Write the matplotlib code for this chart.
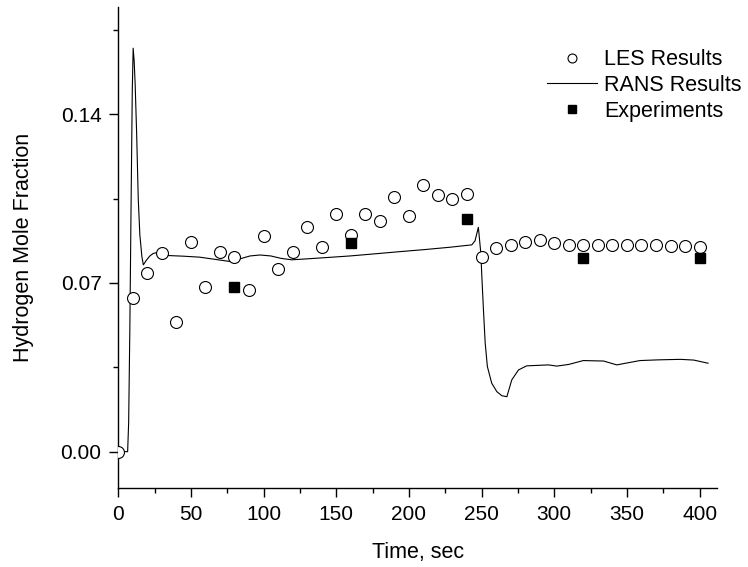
import numpy as np
import matplotlib
matplotlib.use('Agg')
import matplotlib.pyplot as plt
from matplotlib.ticker import MultipleLocator, FormatStrFormatter

plt.rcParams['font.family'] = ['Liberation Sans', 'DejaVu Sans']

# LES results, every 10 s
les_t = list(range(0, 401, 10))
les_y = [0.0, 0.0637, 0.0740, 0.0826, 0.0539, 0.0869, 0.0682, 0.0827, 0.0808, 0.0671,
         0.0895, 0.0759, 0.0830, 0.0934, 0.0849, 0.0986, 0.0900, 0.0985, 0.0959, 0.1058,
         0.0978, 0.1108, 0.1065, 0.1049, 0.1068, 0.0807, 0.0846, 0.0859, 0.0869, 0.0878,
         0.0867, 0.0858, 0.0858, 0.0857, 0.0857, 0.0857, 0.0857, 0.0857, 0.0855, 0.0855,
         0.0851]

rans_t = [0, 3, 6.5, 7.2, 8.0, 9.0, 9.7, 10.3, 11.0, 11.7, 12.7, 13.8, 14.9, 16.3, 17.3,
          19.5, 21.8, 24, 26.4, 29.9, 33.3, 45, 56, 70, 76.9, 83.8, 90.7, 97.6, 105,
          112, 119.4, 130, 145, 159.5, 175, 194, 210, 228, 243.3, 245.5, 247.8,
          249.5, 250.2, 251.3, 252.5, 254, 257, 260.5, 264, 267.4, 270.8, 275.4,
          281, 296, 301.8, 310, 320, 334, 343, 359, 372, 386.9, 396, 405.8]
rans_y = [0.0, 0.0, 0.0, 0.012, 0.05, 0.11, 0.15, 0.1674, 0.162, 0.152, 0.132, 0.105,
          0.090, 0.081, 0.0775, 0.0795, 0.0812, 0.0822, 0.0826, 0.0820, 0.0814, 0.0811,
          0.0807, 0.0795, 0.0789, 0.0800, 0.0812, 0.0816, 0.0812, 0.0802, 0.0796, 0.0800,
          0.0806, 0.0812, 0.0820, 0.0830, 0.0838, 0.0848, 0.0858, 0.0875, 0.0931,
          0.0823, 0.0726, 0.0588, 0.0450, 0.0353, 0.0284, 0.0249, 0.0232, 0.0228,
          0.0298, 0.0339, 0.0356, 0.0360, 0.0355, 0.0362, 0.0378, 0.0376, 0.0360,
          0.0378, 0.0381, 0.0383, 0.0380, 0.0367]

# experiments
exp_t = [80, 160, 240, 320, 400]
exp_y = [0.0685, 0.0865, 0.0964, 0.0805, 0.0802]


def main():
    fig = plt.figure(figsize=(7.48, 5.67), dpi=100)
    ax = fig.add_axes([0.158, 0.1388, 0.8006, 0.8489])

    ax.plot(les_t, les_y, 'o', ms=8.6, mfc='white', mec='black', mew=0.8,
            label='LES Results', zorder=3)
    ax.plot(rans_t, rans_y, '-', color='black', lw=0.8, label='RANS Results', zorder=2)
    ax.plot(exp_t, exp_y, 's', ms=7, color='black', label='Experiments', zorder=4)

    ax.set_xlim(0, 412)
    ax.set_ylim(-0.0152, 0.1845)
    ax.xaxis.set_major_locator(MultipleLocator(50))
    ax.xaxis.set_minor_locator(MultipleLocator(25))
    ax.yaxis.set_major_locator(MultipleLocator(0.07))
    ax.yaxis.set_minor_locator(MultipleLocator(0.035))
    ax.yaxis.set_major_formatter(FormatStrFormatter('%.2f'))

    for s in ['top', 'right']:
        ax.spines[s].set_visible(False)
    for s in ['left', 'bottom']:
        ax.spines[s].set_linewidth(1.0)
    ax.tick_params(which='major', direction='out', length=6.5, width=1.0,
                   labelsize=15, pad=5.5)
    ax.tick_params(which='minor', direction='out', length=3.5, width=1.0)

    ax.set_xlabel('Time, sec', fontsize=15.5, labelpad=13)
    ax.set_ylabel('Hydrogen Mole Fraction', fontsize=15.5, labelpad=19)

    ax.legend(loc='upper left', bbox_to_anchor=(0.7167, 0.9126), frameon=False,
              fontsize=15.5, handlelength=2.3, handletextpad=0.35,
              labelspacing=0.23, borderaxespad=0, borderpad=0, markerscale=0.75)

    fig.savefig('out.png', dpi=100)


if __name__ == '__main__':
    main()
